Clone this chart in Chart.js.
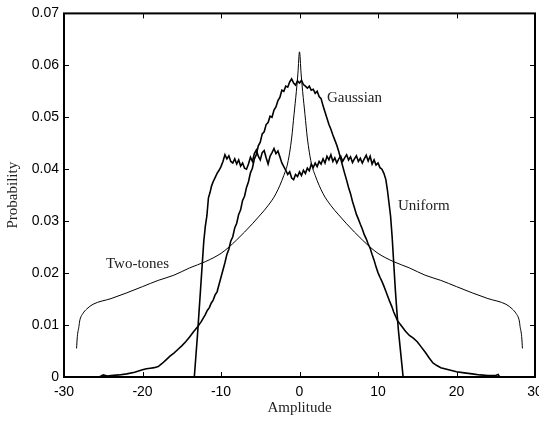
<!DOCTYPE html>
<html>
<head>
<meta charset="utf-8">
<script src="https://cdn.jsdelivr.net/npm/chart.js@4.4.1/dist/chart.umd.min.js"></script>
<style>
  body { margin: 0; background: #fff; }
  .chart__body { width: 539px; height: 427px; }
</style>
</head>
<body>
<div class="chart__body"><canvas id="myChart"></canvas></div>
<script>
// Данные: [амплитуда, вероятность]
const gaussian = [
  [-25.5, 0], [-25, 0.0004], [-24.5, 0.0002], [-24, 0.0003], [-23, 0.0004], [-22, 0.0006],
  [-21, 0.0009], [-20, 0.0014], [-19.5, 0.0016], [-19, 0.0017], [-18.5, 0.0018], [-18, 0.002],
  [-17.5, 0.0026], [-17, 0.0033], [-16.5, 0.004], [-16, 0.0046], [-15.5, 0.0053], [-15, 0.006],
  [-14.5, 0.0068], [-14, 0.0077], [-13.5, 0.0087], [-13, 0.0096], [-12.5, 0.0107],
  [-12, 0.012], [-11.75, 0.0128], [-11.5, 0.0133], [-11.25, 0.0142], [-11, 0.0148],
  [-10.75, 0.0158], [-10.5, 0.0164], [-10.25, 0.0178], [-10, 0.0192], [-9.75, 0.0206],
  [-9.5, 0.022], [-9.25, 0.0236], [-9, 0.0246], [-8.75, 0.0262], [-8.5, 0.027],
  [-8.25, 0.0287], [-8, 0.0296], [-7.75, 0.0313], [-7.5, 0.0322], [-7.25, 0.034],
  [-7, 0.0348], [-6.75, 0.0365], [-6.5, 0.0376], [-6.25, 0.0393], [-6, 0.0402],
  [-5.75, 0.042], [-5.5, 0.0428], [-5.25, 0.0445], [-5, 0.0452], [-4.75, 0.0468],
  [-4.5, 0.0472], [-4.25, 0.0486], [-4, 0.049], [-3.75, 0.0502], [-3.5, 0.05],
  [-3.25, 0.0514], [-3, 0.052], [-2.75, 0.0532], [-2.5, 0.0538], [-2.25, 0.0552],
  [-2, 0.055], [-1.75, 0.056], [-1.5, 0.0558], [-1.25, 0.0568], [-1, 0.0574],
  [-0.75, 0.0566], [-0.5, 0.0562], [-0.25, 0.057], [0, 0.0566], [0.25, 0.0571],
  [0.5, 0.0563], [0.75, 0.056], [1, 0.0556], [1.25, 0.056], [1.5, 0.0552], [1.75, 0.0554],
  [2, 0.0546], [2.25, 0.055], [2.5, 0.054], [2.75, 0.0536], [3, 0.0522], [3.25, 0.051],
  [3.5, 0.0498], [3.75, 0.0486], [4, 0.0477], [4.25, 0.0466], [4.5, 0.0456], [4.75, 0.0446],
  [5, 0.0434], [5.25, 0.042], [5.5, 0.0406], [5.75, 0.0392], [6, 0.0379], [6.25, 0.0365],
  [6.5, 0.0353], [6.75, 0.0338], [7, 0.0326], [7.25, 0.0313], [7.5, 0.0304], [7.75, 0.0294],
  [8, 0.0285], [8.25, 0.0274], [8.5, 0.0266], [8.75, 0.0256], [9, 0.0248], [9.25, 0.0236],
  [9.5, 0.0225], [9.75, 0.0212], [10, 0.0201], [10.25, 0.0192], [10.5, 0.0184],
  [10.75, 0.0175], [11, 0.0165], [11.25, 0.0155], [11.5, 0.0145], [11.75, 0.0136],
  [12, 0.0125], [12.5, 0.0108], [13, 0.0098], [13.5, 0.0088], [14, 0.008], [14.5, 0.0075],
  [15, 0.0068], [15.5, 0.0058], [16, 0.0048], [16.5, 0.0037], [17, 0.0027], [17.5, 0.0022],
  [18, 0.0018], [19, 0.0014], [20, 0.001], [21, 0.0008], [22, 0.0006], [23, 0.0004],
  [24, 0.0003], [25, 0.0003], [25.3, 0.0005], [25.5, 0]
];

const uniform = [
  [-13.4, 0], [-13.2, 0.004], [-13, 0.008], [-12.8, 0.0125], [-12.6, 0.017], [-12.4, 0.0215],
  [-12.2, 0.026], [-12, 0.029], [-11.8, 0.031], [-11.6, 0.0345], [-11.4, 0.0355],
  [-11.2, 0.0368], [-11, 0.0376], [-10.75, 0.0384], [-10.5, 0.0392], [-10.25, 0.0398],
  [-10, 0.0405], [-9.75, 0.0415], [-9.5, 0.0428], [-9.25, 0.042], [-9, 0.0426],
  [-8.75, 0.0415], [-8.5, 0.0412], [-8.25, 0.042], [-8, 0.041], [-7.75, 0.0418],
  [-7.5, 0.0406], [-7.25, 0.0412], [-7, 0.0402], [-6.75, 0.04], [-6.5, 0.041],
  [-6.25, 0.0423], [-6, 0.0415], [-5.75, 0.043], [-5.5, 0.0437], [-5.25, 0.0425],
  [-5, 0.0418], [-4.75, 0.0432], [-4.5, 0.0436], [-4.25, 0.0422], [-4, 0.041],
  [-3.75, 0.0425], [-3.5, 0.0432], [-3.25, 0.044], [-3, 0.043], [-2.75, 0.0435],
  [-2.5, 0.0424], [-2.25, 0.0412], [-2, 0.0405], [-1.75, 0.0398], [-1.5, 0.039],
  [-1.25, 0.0395], [-1, 0.0383], [-0.75, 0.038], [-0.5, 0.039], [-0.25, 0.0386],
  [0, 0.0395], [0.25, 0.0388], [0.5, 0.0398], [0.75, 0.0392], [1, 0.0402], [1.25, 0.0397],
  [1.5, 0.041], [1.75, 0.0403], [2, 0.0412], [2.25, 0.0405], [2.5, 0.0415], [2.75, 0.041],
  [3, 0.042], [3.25, 0.0412], [3.5, 0.0425], [3.75, 0.0418], [4, 0.0428], [4.25, 0.0415],
  [4.5, 0.0422], [4.75, 0.0412], [5, 0.042], [5.25, 0.0425], [5.5, 0.0415], [5.75, 0.0422],
  [6, 0.0428], [6.25, 0.0418], [6.5, 0.0424], [6.75, 0.0413], [7, 0.042], [7.25, 0.0426],
  [7.5, 0.0415], [7.75, 0.0421], [8, 0.0412], [8.25, 0.042], [8.5, 0.0427], [8.75, 0.0416],
  [9, 0.0425], [9.25, 0.041], [9.5, 0.0418], [9.75, 0.0408], [10, 0.0412], [10.25, 0.0403],
  [10.5, 0.04], [10.75, 0.0392], [11, 0.038], [11.2, 0.036], [11.4, 0.0335], [11.6, 0.031],
  [11.8, 0.027], [12, 0.022], [12.2, 0.017], [12.4, 0.0127], [12.6, 0.009], [12.8, 0.006],
  [13, 0.003], [13.2, 0]
];

const twoTones = [
  [-28.4, 0.0055], [-28.3, 0.0078], [-28.1, 0.0097], [-28, 0.0108], [-27.6, 0.0122],
  [-27.1, 0.0131], [-26.3, 0.014], [-24, 0.0151], [-22, 0.0162], [-20, 0.0174],
  [-18, 0.0186], [-16, 0.0196], [-14, 0.021], [-12, 0.0222], [-10, 0.0238], [-9, 0.025],
  [-8, 0.0264], [-7, 0.0279], [-6, 0.0295], [-5, 0.0312], [-4, 0.033], [-3, 0.0353],
  [-2, 0.0388], [-1.5, 0.0412], [-1, 0.046], [-0.7, 0.0505], [-0.4, 0.055], [-0.2, 0.0585],
  [0, 0.0626],
  [0.2, 0.0585], [0.4, 0.055], [0.7, 0.0505], [1, 0.046], [1.5, 0.0412], [2, 0.0388],
  [3, 0.0353], [4, 0.033], [5, 0.0312], [6, 0.0295], [7, 0.0279], [8, 0.0264], [9, 0.025],
  [10, 0.0238], [12, 0.0222], [14, 0.021], [16, 0.0196], [18, 0.0186], [20, 0.0174],
  [22, 0.0162], [24, 0.0151], [26.3, 0.014], [27.1, 0.0131], [27.6, 0.0122], [28, 0.0108],
  [28.1, 0.0097], [28.3, 0.0078], [28.4, 0.0055]
];

// Деления осей
const xTicks = [-30, -20, -10, 0, 10, 20, 30];
const yTicks = [0, 0.01, 0.02, 0.03, 0.04, 0.05, 0.06, 0.07];
const yTickLabels = ["0", "0.01", "0.02", "0.03", "0.04", "0.05", "0.06", "0.07"];

// Подписи кривых прямо на графике
const notes = [
  { text: "Gaussian", x: 3.5, y: 0.0537 },
  { text: "Uniform", x: 12.55, y: 0.033 },
  { text: "Two-tones", x: -24.65, y: 0.0218 },
];

const toPoints = (arr) => arr.map(([x, y]) => ({ x, y }));

// рамка, внутренние засечки и подписи кривых
const frameTicks = {
  id: "frameTicks",
  afterDatasetsDraw(chart) {
    const { ctx, chartArea: a, scales } = chart;
    const sx = scales.x;
    const sy = scales.y;
    ctx.save();
    ctx.strokeStyle = "#000";
    ctx.lineWidth = 1;
    ctx.beginPath();
    xTicks.slice(1, -1).forEach((v) => {
      const px = Math.round(sx.getPixelForValue(v)) + 0.5;
      ctx.moveTo(px, a.bottom);
      ctx.lineTo(px, a.bottom - 5);
      ctx.moveTo(px, a.top);
      ctx.lineTo(px, a.top + 5);
    });
    yTicks.slice(1, -1).forEach((v) => {
      const py = Math.round(sy.getPixelForValue(v)) + 0.5;
      ctx.moveTo(a.left, py);
      ctx.lineTo(a.left + 5, py);
      ctx.moveTo(a.right, py);
      ctx.lineTo(a.right - 5, py);
    });
    ctx.stroke();
    ctx.lineWidth = 2;
    ctx.strokeRect(a.left, a.top, a.right - a.left, a.bottom - a.top);

    ctx.fillStyle = "#222";
    ctx.font = '15px "Liberation Serif"';
    ctx.textAlign = "left";
    ctx.textBaseline = "middle";
    notes.forEach((n) => {
      ctx.fillText(n.text, sx.getPixelForValue(n.x), sy.getPixelForValue(n.y));
    });
    ctx.restore();
  },
};

const lineStyle = {
  borderColor: "#000",
  backgroundColor: "#000",
  pointRadius: 0,
  fill: false,
  tension: 0,
};

const data = {
  datasets: [
    { ...lineStyle, label: "Gaussian", data: toPoints(gaussian), borderWidth: 1.6 },
    { ...lineStyle, label: "Uniform", data: toPoints(uniform), borderWidth: 1.6 },
    {
      ...lineStyle,
      label: "Two-tones",
      data: toPoints(twoTones),
      borderWidth: 1,
      cubicInterpolationMode: "monotone",
    },
  ],
};

const config = {
  type: "line",
  data,
  options: {
    animation: false,
    responsive: true,
    maintainAspectRatio: false,
    layout: { padding: { left: 0, right: 4, top: 8, bottom: 0 } },
    scales: {
      x: {
        type: "linear",
        min: -30,
        max: 30,
        afterBuildTicks: (s) => { s.ticks = xTicks.map((v) => ({ value: v })); },
        afterFit: (s) => { s.height = 50; s.paddingLeft = 0; s.paddingRight = 0; },
        grid: { display: false, drawTicks: false },
        border: { display: false },
        ticks: {
          color: "#000",
          padding: 7,
          maxRotation: 0,
          autoSkip: false,
          font: { family: '"Liberation Sans", Arial', size: 14 },
          callback: (v) => String(v),
        },
        title: {
          display: true,
          text: "Amplitude",
          color: "#222",
          padding: { top: 0, bottom: 10 },
          font: { family: '"Liberation Serif"', size: 15 },
        },
      },
      y: {
        type: "linear",
        min: 0,
        max: 0.07,
        afterBuildTicks: (s) => { s.ticks = yTicks.map((v) => ({ value: v })); },
        afterFit: (s) => { s.width = 64; },
        grid: { display: false, drawTicks: false },
        border: { display: false },
        ticks: {
          color: "#000",
          padding: 5,
          autoSkip: false,
          font: { family: '"Liberation Sans", Arial', size: 14 },
          callback: (v, i) => yTickLabels[i],
        },
        title: {
          display: true,
          text: "Probability",
          color: "#222",
          padding: { top: 4, bottom: 0 },
          font: { family: '"Liberation Serif"', size: 15 },
        },
      },
    },
    plugins: {
      legend: { display: false },
      title: { display: false },
      tooltip: { enabled: false },
    },
  },
  plugins: [frameTicks],
};

const myChart = new Chart(document.getElementById("myChart"), config);
</script>
</body>
</html>
